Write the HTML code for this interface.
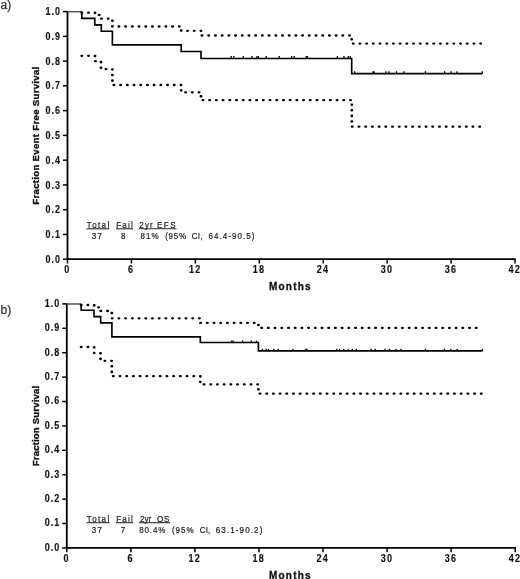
<!DOCTYPE html>
<html><head><meta charset="utf-8"><title>Kaplan-Meier curves</title>
<style>
html,body{margin:0;padding:0;background:#fff;}
body{width:520px;height:579px;overflow:hidden;}
svg{display:block;will-change:transform;}
text{font-family:"Liberation Sans",sans-serif;}
.yt{font-size:10.3px;font-weight:bold;text-anchor:end;fill:#111;stroke:#111;stroke-width:0.15px;letter-spacing:1.15px;}
.xt{font-size:10.4px;font-weight:bold;text-anchor:middle;fill:#111;stroke:#111;stroke-width:0.15px;letter-spacing:1.4px;}
.xtitle{font-size:10px;font-weight:bold;text-anchor:middle;fill:#111;stroke:#111;stroke-width:0.3px;letter-spacing:1.25px;}
.ytitle{font-size:9.6px;font-weight:bold;text-anchor:middle;fill:#111;stroke:#111;stroke-width:0.35px;}
.ann{font-size:8.6px;fill:#1e1e1e;stroke:#1e1e1e;stroke-width:0.22px;}
.ann2{font-size:8.4px;fill:#333;stroke:#333;stroke-width:0.12px;letter-spacing:1.2px;}
.lab{font-size:12px;fill:#333;stroke:#333;stroke-width:0.25px;}
</style></head>
<body>
<svg width="520" height="579" viewBox="0 0 520 579">
<defs><filter id="soft" filterUnits="userSpaceOnUse" x="0" y="0" width="520" height="579"><feGaussianBlur stdDeviation="0.25"/></filter></defs>
<rect width="520" height="579" fill="#fff"/>
<g filter="url(#soft)">
<path d="M67.5 11.3 V259.2 H515.75" fill="none" stroke="#000" stroke-width="1.8"/>
<path d="M62.9 259.2 H67.5" stroke="#000" stroke-width="1.5"/>
<text transform="translate(60.9 262.8) scale(0.87 1)" class="yt">0.0</text>
<path d="M62.9 234.44 H67.5" stroke="#000" stroke-width="1.5"/>
<text transform="translate(60.9 238.04) scale(0.87 1)" class="yt">0.1</text>
<path d="M62.9 209.68 H67.5" stroke="#000" stroke-width="1.5"/>
<text transform="translate(60.9 213.28) scale(0.87 1)" class="yt">0.2</text>
<path d="M62.9 184.92 H67.5" stroke="#000" stroke-width="1.5"/>
<text transform="translate(60.9 188.52) scale(0.87 1)" class="yt">0.3</text>
<path d="M62.9 160.16 H67.5" stroke="#000" stroke-width="1.5"/>
<text transform="translate(60.9 163.76) scale(0.87 1)" class="yt">0.4</text>
<path d="M62.9 135.4 H67.5" stroke="#000" stroke-width="1.5"/>
<text transform="translate(60.9 139) scale(0.87 1)" class="yt">0.5</text>
<path d="M62.9 110.64 H67.5" stroke="#000" stroke-width="1.5"/>
<text transform="translate(60.9 114.24) scale(0.87 1)" class="yt">0.6</text>
<path d="M62.9 85.88 H67.5" stroke="#000" stroke-width="1.5"/>
<text transform="translate(60.9 89.48) scale(0.87 1)" class="yt">0.7</text>
<path d="M62.9 61.12 H67.5" stroke="#000" stroke-width="1.5"/>
<text transform="translate(60.9 64.72) scale(0.87 1)" class="yt">0.8</text>
<path d="M62.9 36.36 H67.5" stroke="#000" stroke-width="1.5"/>
<text transform="translate(60.9 39.96) scale(0.87 1)" class="yt">0.9</text>
<path d="M62.9 11.6 H67.5" stroke="#000" stroke-width="1.5"/>
<text transform="translate(60.9 15.2) scale(0.87 1)" class="yt">1.0</text>
<path d="M67.5 259.2 V263.5" stroke="#000" stroke-width="1.5"/>
<text transform="translate(67.3 273.2) scale(0.87 1)" class="xt">0</text>
<path d="M131.43 259.2 V263.5" stroke="#000" stroke-width="1.5"/>
<text transform="translate(131.23 273.2) scale(0.87 1)" class="xt">6</text>
<path d="M195.36 259.2 V263.5" stroke="#000" stroke-width="1.5"/>
<text transform="translate(195.16 273.2) scale(0.87 1)" class="xt">12</text>
<path d="M259.29 259.2 V263.5" stroke="#000" stroke-width="1.5"/>
<text transform="translate(259.09 273.2) scale(0.87 1)" class="xt">18</text>
<path d="M323.21 259.2 V263.5" stroke="#000" stroke-width="1.5"/>
<text transform="translate(323.01 273.2) scale(0.87 1)" class="xt">24</text>
<path d="M387.14 259.2 V263.5" stroke="#000" stroke-width="1.5"/>
<text transform="translate(386.94 273.2) scale(0.87 1)" class="xt">30</text>
<path d="M451.07 259.2 V263.5" stroke="#000" stroke-width="1.5"/>
<text transform="translate(450.87 273.2) scale(0.87 1)" class="xt">36</text>
<path d="M515 259.2 V263.5" stroke="#000" stroke-width="1.5"/>
<text transform="translate(514.8 273.2) scale(0.87 1)" class="xt">42</text>
<text x="290.4" y="289.9" class="xtitle">Months</text>
<text transform="translate(39.0 135.56) rotate(-90)" class="ytitle" style="letter-spacing:0.31px">Fraction Event Free Survival</text>
<path d="M67.5 11.7 H81.8" fill="none" stroke="#555" stroke-width="1.5"/>
<path d="M81.8 11.7 L81.8 18.4 L94.8 18.4 L94.8 24.9 L101.3 24.9 L101.3 31.2 L112.4 31.2 L112.4 44.9 L181.2 44.9 L181.2 51.5 L201 51.5 L201 58.5 L351.7 58.5 L351.7 73.6 L482.3 73.6" fill="none" stroke="#000" stroke-width="1.65"/>
<path d="M231.2 58.5 V56.1" stroke="#000" stroke-width="1.3"/>
<path d="M233.8 58.5 V56.1" stroke="#000" stroke-width="1.3"/>
<path d="M243.3 58.5 V56.1" stroke="#000" stroke-width="1.3"/>
<path d="M251.9 58.5 V56.1" stroke="#000" stroke-width="1.3"/>
<path d="M257 58.5 V56.1" stroke="#000" stroke-width="1.3"/>
<path d="M258.4 58.5 V56.1" stroke="#000" stroke-width="1.3"/>
<path d="M266.2 58.5 V56.1" stroke="#000" stroke-width="1.3"/>
<path d="M279.2 58.5 V56.1" stroke="#000" stroke-width="1.3"/>
<path d="M291.7 58.5 V56.1" stroke="#000" stroke-width="1.3"/>
<path d="M294.2 58.5 V56.1" stroke="#000" stroke-width="1.3"/>
<path d="M306.2 58.5 V56.1" stroke="#000" stroke-width="1.3"/>
<path d="M307.5 58.5 V56.1" stroke="#000" stroke-width="1.3"/>
<path d="M337.3 58.5 V56.1" stroke="#000" stroke-width="1.3"/>
<path d="M344 58.5 V56.1" stroke="#000" stroke-width="1.3"/>
<path d="M348.2 58.5 V56.1" stroke="#000" stroke-width="1.3"/>
<path d="M350.3 58.5 V56.1" stroke="#000" stroke-width="1.3"/>
<path d="M354.7 73.6 V71.2" stroke="#000" stroke-width="1.3"/>
<path d="M373.1 73.6 V71.2" stroke="#000" stroke-width="1.3"/>
<path d="M374.2 73.6 V71.2" stroke="#000" stroke-width="1.3"/>
<path d="M386 73.6 V71.2" stroke="#000" stroke-width="1.3"/>
<path d="M389 73.6 V71.2" stroke="#000" stroke-width="1.3"/>
<path d="M396.4 73.6 V71.2" stroke="#000" stroke-width="1.3"/>
<path d="M403.8 73.6 V71.2" stroke="#000" stroke-width="1.3"/>
<path d="M425.4 73.6 V71.2" stroke="#000" stroke-width="1.3"/>
<path d="M444.6 73.6 V71.2" stroke="#000" stroke-width="1.3"/>
<path d="M451.2 73.6 V71.2" stroke="#000" stroke-width="1.3"/>
<path d="M456.9 73.6 V71.2" stroke="#000" stroke-width="1.3"/>
<path d="M482.3 73.6 V71.2" stroke="#000" stroke-width="1.3"/>
<rect x="80.3" y="11.55" width="3" height="2.3" rx="1.15" />
<rect x="87" y="11.55" width="3" height="2.3" rx="1.15" />
<rect x="93.6" y="11.58" width="2.8" height="2.6" rx="1.15" />
<rect x="97.66" y="13.85" width="3" height="2.3" rx="1.15" />
<rect x="99.94" y="17.55" width="3" height="2.3" rx="1.15" />
<rect x="106.64" y="17.55" width="3" height="2.3" rx="1.15" />
<rect x="111" y="19.44" width="2.8" height="2.6" rx="1.15" />
<rect x="111" y="25.04" width="2.8" height="2.6" rx="1.15" />
<rect x="117.42" y="25.35" width="3" height="2.3" rx="1.15" />
<rect x="124.12" y="25.35" width="3" height="2.3" rx="1.15" />
<rect x="130.83" y="25.35" width="3" height="2.3" rx="1.15" />
<rect x="137.53" y="25.35" width="3" height="2.3" rx="1.15" />
<rect x="144.24" y="25.35" width="3" height="2.3" rx="1.15" />
<rect x="150.94" y="25.35" width="3" height="2.3" rx="1.15" />
<rect x="157.65" y="25.35" width="3" height="2.3" rx="1.15" />
<rect x="164.35" y="25.35" width="3" height="2.3" rx="1.15" />
<rect x="171.06" y="25.35" width="3" height="2.3" rx="1.15" />
<rect x="177.76" y="25.35" width="3" height="2.3" rx="1.15" />
<rect x="179.8" y="29.18" width="2.8" height="2.6" rx="1.15" />
<rect x="186.02" y="29.65" width="3" height="2.3" rx="1.15" />
<rect x="192.73" y="29.65" width="3" height="2.3" rx="1.15" />
<rect x="199.43" y="29.65" width="3" height="2.3" rx="1.15" />
<rect x="200.51" y="34.35" width="3" height="2.3" rx="1.15" />
<rect x="207.22" y="34.35" width="3" height="2.3" rx="1.15" />
<rect x="213.92" y="34.35" width="3" height="2.3" rx="1.15" />
<rect x="220.63" y="34.35" width="3" height="2.3" rx="1.15" />
<rect x="227.33" y="34.35" width="3" height="2.3" rx="1.15" />
<rect x="234.04" y="34.35" width="3" height="2.3" rx="1.15" />
<rect x="240.74" y="34.35" width="3" height="2.3" rx="1.15" />
<rect x="247.45" y="34.35" width="3" height="2.3" rx="1.15" />
<rect x="254.15" y="34.35" width="3" height="2.3" rx="1.15" />
<rect x="260.86" y="34.35" width="3" height="2.3" rx="1.15" />
<rect x="267.56" y="34.35" width="3" height="2.3" rx="1.15" />
<rect x="274.27" y="34.35" width="3" height="2.3" rx="1.15" />
<rect x="280.97" y="34.35" width="3" height="2.3" rx="1.15" />
<rect x="287.68" y="34.35" width="3" height="2.3" rx="1.15" />
<rect x="294.38" y="34.35" width="3" height="2.3" rx="1.15" />
<rect x="301.09" y="34.35" width="3" height="2.3" rx="1.15" />
<rect x="307.79" y="34.35" width="3" height="2.3" rx="1.15" />
<rect x="314.5" y="34.35" width="3" height="2.3" rx="1.15" />
<rect x="321.2" y="34.35" width="3" height="2.3" rx="1.15" />
<rect x="327.91" y="34.35" width="3" height="2.3" rx="1.15" />
<rect x="334.61" y="34.35" width="3" height="2.3" rx="1.15" />
<rect x="341.32" y="34.35" width="3" height="2.3" rx="1.15" />
<rect x="348.02" y="34.35" width="3" height="2.3" rx="1.15" />
<rect x="350.3" y="37.98" width="2.8" height="2.6" rx="1.15" />
<rect x="351.73" y="42.45" width="3" height="2.3" rx="1.15" />
<rect x="358.44" y="42.45" width="3" height="2.3" rx="1.15" />
<rect x="365.14" y="42.45" width="3" height="2.3" rx="1.15" />
<rect x="371.85" y="42.45" width="3" height="2.3" rx="1.15" />
<rect x="378.55" y="42.45" width="3" height="2.3" rx="1.15" />
<rect x="385.26" y="42.45" width="3" height="2.3" rx="1.15" />
<rect x="391.96" y="42.45" width="3" height="2.3" rx="1.15" />
<rect x="398.67" y="42.45" width="3" height="2.3" rx="1.15" />
<rect x="405.37" y="42.45" width="3" height="2.3" rx="1.15" />
<rect x="412.08" y="42.45" width="3" height="2.3" rx="1.15" />
<rect x="418.78" y="42.45" width="3" height="2.3" rx="1.15" />
<rect x="425.49" y="42.45" width="3" height="2.3" rx="1.15" />
<rect x="432.19" y="42.45" width="3" height="2.3" rx="1.15" />
<rect x="438.9" y="42.45" width="3" height="2.3" rx="1.15" />
<rect x="445.6" y="42.45" width="3" height="2.3" rx="1.15" />
<rect x="452.31" y="42.45" width="3" height="2.3" rx="1.15" />
<rect x="459.01" y="42.45" width="3" height="2.3" rx="1.15" />
<rect x="465.72" y="42.45" width="3" height="2.3" rx="1.15" />
<rect x="472.42" y="42.45" width="3" height="2.3" rx="1.15" />
<rect x="479.13" y="42.45" width="3" height="2.3" rx="1.15" />
<rect x="80.3" y="54.65" width="3" height="2.3" rx="1.15" />
<rect x="87" y="54.65" width="3" height="2.3" rx="1.15" />
<rect x="93.6" y="54.68" width="2.8" height="2.6" rx="1.15" />
<rect x="93.95" y="60.05" width="3" height="2.3" rx="1.15" />
<rect x="99.6" y="60.86" width="2.8" height="2.6" rx="1.15" />
<rect x="99.6" y="66.46" width="2.8" height="2.6" rx="1.15" />
<rect x="104.49" y="68.05" width="3" height="2.3" rx="1.15" />
<rect x="111" y="68.14" width="2.8" height="2.6" rx="1.15" />
<rect x="111" y="73.74" width="2.8" height="2.6" rx="1.15" />
<rect x="111" y="79.34" width="2.8" height="2.6" rx="1.15" />
<rect x="112.39" y="83.85" width="3" height="2.3" rx="1.15" />
<rect x="119.09" y="83.85" width="3" height="2.3" rx="1.15" />
<rect x="125.8" y="83.85" width="3" height="2.3" rx="1.15" />
<rect x="132.5" y="83.85" width="3" height="2.3" rx="1.15" />
<rect x="139.21" y="83.85" width="3" height="2.3" rx="1.15" />
<rect x="145.91" y="83.85" width="3" height="2.3" rx="1.15" />
<rect x="152.62" y="83.85" width="3" height="2.3" rx="1.15" />
<rect x="159.32" y="83.85" width="3" height="2.3" rx="1.15" />
<rect x="166.03" y="83.85" width="3" height="2.3" rx="1.15" />
<rect x="172.73" y="83.85" width="3" height="2.3" rx="1.15" />
<rect x="179.44" y="83.85" width="3" height="2.3" rx="1.15" />
<rect x="179.8" y="89.08" width="2.8" height="2.6" rx="1.15" />
<rect x="184.11" y="91.15" width="3" height="2.3" rx="1.15" />
<rect x="190.81" y="91.15" width="3" height="2.3" rx="1.15" />
<rect x="197.52" y="91.15" width="3" height="2.3" rx="1.15" />
<rect x="199.6" y="94.94" width="2.8" height="2.6" rx="1.15" />
<rect x="201.47" y="99.05" width="3" height="2.3" rx="1.15" />
<rect x="208.17" y="99.05" width="3" height="2.3" rx="1.15" />
<rect x="214.88" y="99.05" width="3" height="2.3" rx="1.15" />
<rect x="221.58" y="99.05" width="3" height="2.3" rx="1.15" />
<rect x="228.29" y="99.05" width="3" height="2.3" rx="1.15" />
<rect x="234.99" y="99.05" width="3" height="2.3" rx="1.15" />
<rect x="241.7" y="99.05" width="3" height="2.3" rx="1.15" />
<rect x="248.4" y="99.05" width="3" height="2.3" rx="1.15" />
<rect x="255.11" y="99.05" width="3" height="2.3" rx="1.15" />
<rect x="261.81" y="99.05" width="3" height="2.3" rx="1.15" />
<rect x="268.52" y="99.05" width="3" height="2.3" rx="1.15" />
<rect x="275.22" y="99.05" width="3" height="2.3" rx="1.15" />
<rect x="281.93" y="99.05" width="3" height="2.3" rx="1.15" />
<rect x="288.63" y="99.05" width="3" height="2.3" rx="1.15" />
<rect x="295.34" y="99.05" width="3" height="2.3" rx="1.15" />
<rect x="302.04" y="99.05" width="3" height="2.3" rx="1.15" />
<rect x="308.75" y="99.05" width="3" height="2.3" rx="1.15" />
<rect x="315.45" y="99.05" width="3" height="2.3" rx="1.15" />
<rect x="322.16" y="99.05" width="3" height="2.3" rx="1.15" />
<rect x="328.86" y="99.05" width="3" height="2.3" rx="1.15" />
<rect x="335.57" y="99.05" width="3" height="2.3" rx="1.15" />
<rect x="342.27" y="99.05" width="3" height="2.3" rx="1.15" />
<rect x="348.98" y="99.05" width="3" height="2.3" rx="1.15" />
<rect x="350.4" y="103.4" width="2.8" height="2.6" rx="1.15" />
<rect x="350.4" y="109" width="2.8" height="2.6" rx="1.15" />
<rect x="350.4" y="114.6" width="2.8" height="2.6" rx="1.15" />
<rect x="350.4" y="120.2" width="2.8" height="2.6" rx="1.15" />
<rect x="350.77" y="125.55" width="3" height="2.3" rx="1.15" />
<rect x="357.48" y="125.55" width="3" height="2.3" rx="1.15" />
<rect x="364.18" y="125.55" width="3" height="2.3" rx="1.15" />
<rect x="370.89" y="125.55" width="3" height="2.3" rx="1.15" />
<rect x="377.59" y="125.55" width="3" height="2.3" rx="1.15" />
<rect x="384.3" y="125.55" width="3" height="2.3" rx="1.15" />
<rect x="391" y="125.55" width="3" height="2.3" rx="1.15" />
<rect x="397.71" y="125.55" width="3" height="2.3" rx="1.15" />
<rect x="404.41" y="125.55" width="3" height="2.3" rx="1.15" />
<rect x="411.12" y="125.55" width="3" height="2.3" rx="1.15" />
<rect x="417.82" y="125.55" width="3" height="2.3" rx="1.15" />
<rect x="424.53" y="125.55" width="3" height="2.3" rx="1.15" />
<rect x="431.23" y="125.55" width="3" height="2.3" rx="1.15" />
<rect x="437.94" y="125.55" width="3" height="2.3" rx="1.15" />
<rect x="444.64" y="125.55" width="3" height="2.3" rx="1.15" />
<rect x="451.35" y="125.55" width="3" height="2.3" rx="1.15" />
<rect x="458.05" y="125.55" width="3" height="2.3" rx="1.15" />
<rect x="464.76" y="125.55" width="3" height="2.3" rx="1.15" />
<rect x="471.46" y="125.55" width="3" height="2.3" rx="1.15" />
<rect x="478.17" y="125.55" width="3" height="2.3" rx="1.15" />
<text transform="scale(0.93 1)" x="93.28" y="228.5" textLength="24.19" lengthAdjust="spacing" class="ann">Total</text>
<text transform="scale(0.93 1)" x="125" y="228.5" textLength="17.74" lengthAdjust="spacing" class="ann">Fail</text>
<text transform="scale(0.93 1)" x="149.84" y="228.5" textLength="14.3" lengthAdjust="spacing" class="ann">2yr</text>
<text transform="scale(0.93 1)" x="168.87" y="228.5" textLength="19.89" lengthAdjust="spacing" class="ann">EFS</text>
<path d="M86.5 228.8 H109.5" stroke="#2a2a2a" stroke-width="1.1"/>
<path d="M116 228.8 H133" stroke="#2a2a2a" stroke-width="1.1"/>
<path d="M139.1 228.8 H176.5" stroke="#2a2a2a" stroke-width="1.1"/>
<text transform="scale(0.93 1)" x="98.66" y="238.9" textLength="10.86" lengthAdjust="spacing" class="ann">37</text>
<text transform="scale(0.93 1)" x="130.16" y="238.9" class="ann">8</text>
<text transform="scale(0.93 1)" x="151.13" y="238.9" textLength="19.35" lengthAdjust="spacing" class="ann">81%</text>
<text transform="scale(0.93 1)" x="177.58" y="238.9" textLength="22.69" lengthAdjust="spacing" class="ann">(95%</text>
<text transform="scale(0.93 1)" x="206.18" y="238.9" textLength="11.72" lengthAdjust="spacing" class="ann">CI,</text>
<text transform="scale(0.93 1)" x="224.14" y="238.9" textLength="49.35" lengthAdjust="spacing" class="ann">64.4-90.5)</text>
<text x="0.5" y="8.9" class="lab">a)</text>
<path d="M66.8 303.6 V547.9 H515.95" fill="none" stroke="#000" stroke-width="1.8"/>
<path d="M62.2 547.9 H66.8" stroke="#000" stroke-width="1.5"/>
<text transform="translate(60.2 550.8) scale(0.87 1)" class="yt">0.0</text>
<path d="M62.2 523.5 H66.8" stroke="#000" stroke-width="1.5"/>
<text transform="translate(60.2 526.4) scale(0.87 1)" class="yt">0.1</text>
<path d="M62.2 499.1 H66.8" stroke="#000" stroke-width="1.5"/>
<text transform="translate(60.2 502) scale(0.87 1)" class="yt">0.2</text>
<path d="M62.2 474.7 H66.8" stroke="#000" stroke-width="1.5"/>
<text transform="translate(60.2 477.6) scale(0.87 1)" class="yt">0.3</text>
<path d="M62.2 450.3 H66.8" stroke="#000" stroke-width="1.5"/>
<text transform="translate(60.2 453.2) scale(0.87 1)" class="yt">0.4</text>
<path d="M62.2 425.9 H66.8" stroke="#000" stroke-width="1.5"/>
<text transform="translate(60.2 428.8) scale(0.87 1)" class="yt">0.5</text>
<path d="M62.2 401.5 H66.8" stroke="#000" stroke-width="1.5"/>
<text transform="translate(60.2 404.4) scale(0.87 1)" class="yt">0.6</text>
<path d="M62.2 377.1 H66.8" stroke="#000" stroke-width="1.5"/>
<text transform="translate(60.2 380) scale(0.87 1)" class="yt">0.7</text>
<path d="M62.2 352.7 H66.8" stroke="#000" stroke-width="1.5"/>
<text transform="translate(60.2 355.6) scale(0.87 1)" class="yt">0.8</text>
<path d="M62.2 328.3 H66.8" stroke="#000" stroke-width="1.5"/>
<text transform="translate(60.2 331.2) scale(0.87 1)" class="yt">0.9</text>
<path d="M62.2 303.9 H66.8" stroke="#000" stroke-width="1.5"/>
<text transform="translate(60.2 306.8) scale(0.87 1)" class="yt">1.0</text>
<path d="M66.8 547.9 V552.2" stroke="#000" stroke-width="1.5"/>
<text transform="translate(66.6 561.9) scale(0.87 1)" class="xt">0</text>
<path d="M130.86 547.9 V552.2" stroke="#000" stroke-width="1.5"/>
<text transform="translate(130.66 561.9) scale(0.87 1)" class="xt">6</text>
<path d="M194.91 547.9 V552.2" stroke="#000" stroke-width="1.5"/>
<text transform="translate(194.71 561.9) scale(0.87 1)" class="xt">12</text>
<path d="M258.97 547.9 V552.2" stroke="#000" stroke-width="1.5"/>
<text transform="translate(258.77 561.9) scale(0.87 1)" class="xt">18</text>
<path d="M323.03 547.9 V552.2" stroke="#000" stroke-width="1.5"/>
<text transform="translate(322.83 561.9) scale(0.87 1)" class="xt">24</text>
<path d="M387.09 547.9 V552.2" stroke="#000" stroke-width="1.5"/>
<text transform="translate(386.89 561.9) scale(0.87 1)" class="xt">30</text>
<path d="M451.14 547.9 V552.2" stroke="#000" stroke-width="1.5"/>
<text transform="translate(450.94 561.9) scale(0.87 1)" class="xt">36</text>
<path d="M515.2 547.9 V552.2" stroke="#000" stroke-width="1.5"/>
<text transform="translate(515 561.9) scale(0.87 1)" class="xt">42</text>
<text x="290.4" y="578.6" class="xtitle">Months</text>
<text transform="translate(39.0 425.98) rotate(-90)" class="ytitle" style="letter-spacing:0.16px">Fraction Survival</text>
<path d="M66.9 304 H81.2" fill="none" stroke="#555" stroke-width="1.5"/>
<path d="M81.2 304 L81.2 310.2 L94 310.2 L94 316.6 L100.7 316.6 L100.7 322.9 L111.9 322.9 L111.9 336.9 L200.3 336.9 L200.3 342.5 L258.4 342.5 L258.4 350.8 L482.5 350.8" fill="none" stroke="#000" stroke-width="1.65"/>
<path d="M231.6 342.6 V340.6" stroke="#000" stroke-width="1.3"/>
<path d="M233.2 342.6 V340.6" stroke="#000" stroke-width="1.3"/>
<path d="M242.7 342.6 V340.6" stroke="#000" stroke-width="1.3"/>
<path d="M251.2 342.6 V340.6" stroke="#000" stroke-width="1.3"/>
<path d="M256.5 342.6 V340.6" stroke="#000" stroke-width="1.3"/>
<path d="M262.4 350.8 V348.8" stroke="#000" stroke-width="1.3"/>
<path d="M266.2 350.8 V348.8" stroke="#000" stroke-width="1.3"/>
<path d="M268.5 350.8 V348.8" stroke="#000" stroke-width="1.3"/>
<path d="M273.8 350.8 V348.8" stroke="#000" stroke-width="1.3"/>
<path d="M278.1 350.8 V348.8" stroke="#000" stroke-width="1.3"/>
<path d="M293 350.8 V348.8" stroke="#000" stroke-width="1.3"/>
<path d="M305.9 350.8 V348.8" stroke="#000" stroke-width="1.3"/>
<path d="M306.8 350.8 V348.8" stroke="#000" stroke-width="1.3"/>
<path d="M336.8 350.8 V348.8" stroke="#000" stroke-width="1.3"/>
<path d="M339.5 350.8 V348.8" stroke="#000" stroke-width="1.3"/>
<path d="M343.6 350.8 V348.8" stroke="#000" stroke-width="1.3"/>
<path d="M348.3 350.8 V348.8" stroke="#000" stroke-width="1.3"/>
<path d="M352.3 350.8 V348.8" stroke="#000" stroke-width="1.3"/>
<path d="M356.3 350.8 V348.8" stroke="#000" stroke-width="1.3"/>
<path d="M371.1 350.8 V348.8" stroke="#000" stroke-width="1.3"/>
<path d="M375.2 350.8 V348.8" stroke="#000" stroke-width="1.3"/>
<path d="M385 350.8 V348.8" stroke="#000" stroke-width="1.3"/>
<path d="M389.5 350.8 V348.8" stroke="#000" stroke-width="1.3"/>
<path d="M395.9 350.8 V348.8" stroke="#000" stroke-width="1.3"/>
<path d="M401.1 350.8 V348.8" stroke="#000" stroke-width="1.3"/>
<path d="M425.5 350.8 V348.8" stroke="#000" stroke-width="1.3"/>
<path d="M444.5 350.8 V348.8" stroke="#000" stroke-width="1.3"/>
<path d="M450.8 350.8 V348.8" stroke="#000" stroke-width="1.3"/>
<path d="M457.2 350.8 V348.8" stroke="#000" stroke-width="1.3"/>
<path d="M482.5 350.8 V348.8" stroke="#000" stroke-width="1.3"/>
<rect x="79.7" y="303.85" width="3" height="2.3" rx="1.15" />
<rect x="86.41" y="303.85" width="3" height="2.3" rx="1.15" />
<rect x="92.8" y="304.04" width="2.8" height="2.6" rx="1.15" />
<rect x="97.06" y="306.15" width="3" height="2.3" rx="1.15" />
<rect x="99.34" y="309.85" width="3" height="2.3" rx="1.15" />
<rect x="106.04" y="309.85" width="3" height="2.3" rx="1.15" />
<rect x="110.4" y="311.74" width="2.8" height="2.6" rx="1.15" />
<rect x="110.71" y="317.15" width="3" height="2.3" rx="1.15" />
<rect x="117.42" y="317.15" width="3" height="2.3" rx="1.15" />
<rect x="124.12" y="317.15" width="3" height="2.3" rx="1.15" />
<rect x="130.83" y="317.15" width="3" height="2.3" rx="1.15" />
<rect x="137.53" y="317.15" width="3" height="2.3" rx="1.15" />
<rect x="144.24" y="317.15" width="3" height="2.3" rx="1.15" />
<rect x="150.94" y="317.15" width="3" height="2.3" rx="1.15" />
<rect x="157.65" y="317.15" width="3" height="2.3" rx="1.15" />
<rect x="164.35" y="317.15" width="3" height="2.3" rx="1.15" />
<rect x="171.06" y="317.15" width="3" height="2.3" rx="1.15" />
<rect x="177.76" y="317.15" width="3" height="2.3" rx="1.15" />
<rect x="184.47" y="317.15" width="3" height="2.3" rx="1.15" />
<rect x="191.17" y="317.15" width="3" height="2.3" rx="1.15" />
<rect x="197.88" y="317.15" width="3" height="2.3" rx="1.15" />
<rect x="199.07" y="321.75" width="3" height="2.3" rx="1.15" />
<rect x="205.78" y="321.75" width="3" height="2.3" rx="1.15" />
<rect x="212.48" y="321.75" width="3" height="2.3" rx="1.15" />
<rect x="219.19" y="321.75" width="3" height="2.3" rx="1.15" />
<rect x="225.89" y="321.75" width="3" height="2.3" rx="1.15" />
<rect x="232.6" y="321.75" width="3" height="2.3" rx="1.15" />
<rect x="239.3" y="321.75" width="3" height="2.3" rx="1.15" />
<rect x="246.01" y="321.75" width="3" height="2.3" rx="1.15" />
<rect x="252.71" y="321.75" width="3" height="2.3" rx="1.15" />
<rect x="257" y="323.7" width="2.8" height="2.6" rx="1.15" />
<rect x="260.14" y="326.75" width="3" height="2.3" rx="1.15" />
<rect x="266.84" y="326.75" width="3" height="2.3" rx="1.15" />
<rect x="273.55" y="326.75" width="3" height="2.3" rx="1.15" />
<rect x="280.25" y="326.75" width="3" height="2.3" rx="1.15" />
<rect x="286.96" y="326.75" width="3" height="2.3" rx="1.15" />
<rect x="293.66" y="326.75" width="3" height="2.3" rx="1.15" />
<rect x="300.37" y="326.75" width="3" height="2.3" rx="1.15" />
<rect x="307.07" y="326.75" width="3" height="2.3" rx="1.15" />
<rect x="313.78" y="326.75" width="3" height="2.3" rx="1.15" />
<rect x="320.48" y="326.75" width="3" height="2.3" rx="1.15" />
<rect x="327.19" y="326.75" width="3" height="2.3" rx="1.15" />
<rect x="333.89" y="326.75" width="3" height="2.3" rx="1.15" />
<rect x="340.6" y="326.75" width="3" height="2.3" rx="1.15" />
<rect x="347.3" y="326.75" width="3" height="2.3" rx="1.15" />
<rect x="354.01" y="326.75" width="3" height="2.3" rx="1.15" />
<rect x="360.71" y="326.75" width="3" height="2.3" rx="1.15" />
<rect x="367.42" y="326.75" width="3" height="2.3" rx="1.15" />
<rect x="374.12" y="326.75" width="3" height="2.3" rx="1.15" />
<rect x="380.83" y="326.75" width="3" height="2.3" rx="1.15" />
<rect x="387.53" y="326.75" width="3" height="2.3" rx="1.15" />
<rect x="394.24" y="326.75" width="3" height="2.3" rx="1.15" />
<rect x="400.94" y="326.75" width="3" height="2.3" rx="1.15" />
<rect x="407.65" y="326.75" width="3" height="2.3" rx="1.15" />
<rect x="414.35" y="326.75" width="3" height="2.3" rx="1.15" />
<rect x="421.06" y="326.75" width="3" height="2.3" rx="1.15" />
<rect x="427.76" y="326.75" width="3" height="2.3" rx="1.15" />
<rect x="434.47" y="326.75" width="3" height="2.3" rx="1.15" />
<rect x="441.17" y="326.75" width="3" height="2.3" rx="1.15" />
<rect x="447.88" y="326.75" width="3" height="2.3" rx="1.15" />
<rect x="454.58" y="326.75" width="3" height="2.3" rx="1.15" />
<rect x="461.29" y="326.75" width="3" height="2.3" rx="1.15" />
<rect x="467.99" y="326.75" width="3" height="2.3" rx="1.15" />
<rect x="474.7" y="326.75" width="3" height="2.3" rx="1.15" />
<rect x="79.7" y="345.85" width="3" height="2.3" rx="1.15" />
<rect x="86.41" y="345.85" width="3" height="2.3" rx="1.15" />
<rect x="92.8" y="346.04" width="2.8" height="2.6" rx="1.15" />
<rect x="92.8" y="351.64" width="2.8" height="2.6" rx="1.15" />
<rect x="99.1" y="351.98" width="2.8" height="2.6" rx="1.15" />
<rect x="99.1" y="357.58" width="2.8" height="2.6" rx="1.15" />
<rect x="103.41" y="359.65" width="3" height="2.3" rx="1.15" />
<rect x="110.11" y="359.65" width="3" height="2.3" rx="1.15" />
<rect x="110.4" y="364.94" width="2.8" height="2.6" rx="1.15" />
<rect x="110.4" y="370.54" width="2.8" height="2.6" rx="1.15" />
<rect x="111.79" y="375.05" width="3" height="2.3" rx="1.15" />
<rect x="118.49" y="375.05" width="3" height="2.3" rx="1.15" />
<rect x="125.2" y="375.05" width="3" height="2.3" rx="1.15" />
<rect x="131.9" y="375.05" width="3" height="2.3" rx="1.15" />
<rect x="138.61" y="375.05" width="3" height="2.3" rx="1.15" />
<rect x="145.31" y="375.05" width="3" height="2.3" rx="1.15" />
<rect x="152.02" y="375.05" width="3" height="2.3" rx="1.15" />
<rect x="158.72" y="375.05" width="3" height="2.3" rx="1.15" />
<rect x="165.43" y="375.05" width="3" height="2.3" rx="1.15" />
<rect x="172.13" y="375.05" width="3" height="2.3" rx="1.15" />
<rect x="178.84" y="375.05" width="3" height="2.3" rx="1.15" />
<rect x="185.54" y="375.05" width="3" height="2.3" rx="1.15" />
<rect x="192.25" y="375.05" width="3" height="2.3" rx="1.15" />
<rect x="198.9" y="375.03" width="2.8" height="2.6" rx="1.15" />
<rect x="198.9" y="380.63" width="2.8" height="2.6" rx="1.15" />
<rect x="202.55" y="383.25" width="3" height="2.3" rx="1.15" />
<rect x="209.25" y="383.25" width="3" height="2.3" rx="1.15" />
<rect x="215.96" y="383.25" width="3" height="2.3" rx="1.15" />
<rect x="222.66" y="383.25" width="3" height="2.3" rx="1.15" />
<rect x="229.37" y="383.25" width="3" height="2.3" rx="1.15" />
<rect x="236.07" y="383.25" width="3" height="2.3" rx="1.15" />
<rect x="242.78" y="383.25" width="3" height="2.3" rx="1.15" />
<rect x="249.48" y="383.25" width="3" height="2.3" rx="1.15" />
<rect x="256.19" y="383.25" width="3" height="2.3" rx="1.15" />
<rect x="257" y="388.1" width="2.8" height="2.6" rx="1.15" />
<rect x="258.46" y="392.55" width="3" height="2.3" rx="1.15" />
<rect x="265.17" y="392.55" width="3" height="2.3" rx="1.15" />
<rect x="271.87" y="392.55" width="3" height="2.3" rx="1.15" />
<rect x="278.58" y="392.55" width="3" height="2.3" rx="1.15" />
<rect x="285.28" y="392.55" width="3" height="2.3" rx="1.15" />
<rect x="291.99" y="392.55" width="3" height="2.3" rx="1.15" />
<rect x="298.69" y="392.55" width="3" height="2.3" rx="1.15" />
<rect x="305.4" y="392.55" width="3" height="2.3" rx="1.15" />
<rect x="312.1" y="392.55" width="3" height="2.3" rx="1.15" />
<rect x="318.81" y="392.55" width="3" height="2.3" rx="1.15" />
<rect x="325.51" y="392.55" width="3" height="2.3" rx="1.15" />
<rect x="332.22" y="392.55" width="3" height="2.3" rx="1.15" />
<rect x="338.92" y="392.55" width="3" height="2.3" rx="1.15" />
<rect x="345.63" y="392.55" width="3" height="2.3" rx="1.15" />
<rect x="352.33" y="392.55" width="3" height="2.3" rx="1.15" />
<rect x="359.04" y="392.55" width="3" height="2.3" rx="1.15" />
<rect x="365.74" y="392.55" width="3" height="2.3" rx="1.15" />
<rect x="372.45" y="392.55" width="3" height="2.3" rx="1.15" />
<rect x="379.15" y="392.55" width="3" height="2.3" rx="1.15" />
<rect x="385.86" y="392.55" width="3" height="2.3" rx="1.15" />
<rect x="392.56" y="392.55" width="3" height="2.3" rx="1.15" />
<rect x="399.27" y="392.55" width="3" height="2.3" rx="1.15" />
<rect x="405.97" y="392.55" width="3" height="2.3" rx="1.15" />
<rect x="412.68" y="392.55" width="3" height="2.3" rx="1.15" />
<rect x="419.38" y="392.55" width="3" height="2.3" rx="1.15" />
<rect x="426.09" y="392.55" width="3" height="2.3" rx="1.15" />
<rect x="432.79" y="392.55" width="3" height="2.3" rx="1.15" />
<rect x="439.5" y="392.55" width="3" height="2.3" rx="1.15" />
<rect x="446.2" y="392.55" width="3" height="2.3" rx="1.15" />
<rect x="452.91" y="392.55" width="3" height="2.3" rx="1.15" />
<rect x="459.61" y="392.55" width="3" height="2.3" rx="1.15" />
<rect x="466.32" y="392.55" width="3" height="2.3" rx="1.15" />
<rect x="473.02" y="392.55" width="3" height="2.3" rx="1.15" />
<rect x="479.73" y="392.55" width="3" height="2.3" rx="1.15" />
<text transform="scale(0.93 1)" x="93.28" y="522.4" textLength="24.19" lengthAdjust="spacing" class="ann">Total</text>
<text transform="scale(0.93 1)" x="125" y="522.4" textLength="17.74" lengthAdjust="spacing" class="ann">Fail</text>
<text transform="scale(0.93 1)" x="150.59" y="522.4" textLength="11.94" lengthAdjust="spacing" class="ann">2yr</text>
<text transform="scale(0.93 1)" x="168.87" y="522.4" textLength="13.12" lengthAdjust="spacing" class="ann">OS</text>
<path d="M86.5 522.7 H109.5" stroke="#2a2a2a" stroke-width="1.1"/>
<path d="M116 522.7 H133" stroke="#2a2a2a" stroke-width="1.1"/>
<path d="M139.1 522.7 H170.2" stroke="#2a2a2a" stroke-width="1.1"/>
<text transform="scale(0.93 1)" x="98.76" y="532.9" textLength="10.97" lengthAdjust="spacing" class="ann">37</text>
<text transform="scale(0.93 1)" x="129.95" y="532.9" class="ann">7</text>
<text transform="scale(0.93 1)" x="149.84" y="532.9" textLength="27.85" lengthAdjust="spacing" class="ann">80.4%</text>
<text transform="scale(0.93 1)" x="184.89" y="532.9" textLength="23.23" lengthAdjust="spacing" class="ann">(95%</text>
<text transform="scale(0.93 1)" x="214.78" y="532.9" textLength="11.4" lengthAdjust="spacing" class="ann">CI,</text>
<text transform="scale(0.93 1)" x="231.99" y="532.9" textLength="50.11" lengthAdjust="spacing" class="ann">63.1-90.2)</text>
<text x="0.5" y="313.8" class="lab">b)</text>
</g>
</svg>
</body></html>
